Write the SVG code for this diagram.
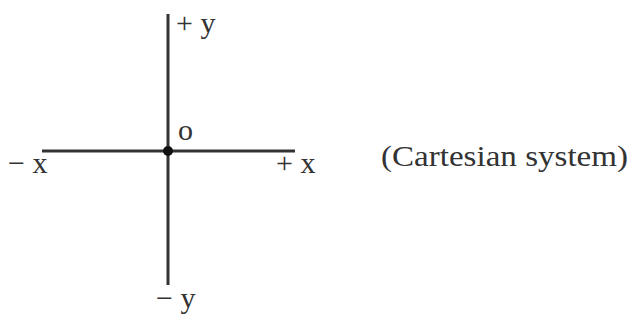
<svg xmlns="http://www.w3.org/2000/svg" width="636" height="323" viewBox="0 0 636 323">
<style>
.ax{stroke:#333;stroke-width:3;fill:none}
.t{font-family:"Liberation Serif",serif;fill:#333;font-size:30px}
</style>
<rect width="636" height="323" fill="#fff"/>
<g id="connectors">
<line class="ax" x1="168" y1="14" x2="168" y2="285"/>
<line class="ax" x1="42" y1="151" x2="295" y2="151"/>
</g>
<g id="origin">
<circle cx="168" cy="151" r="5" fill="#111"/>
<text class="t" x="178" y="140" font-size="24">o</text>
</g>
<g id="py"><text class="t" x="176" y="33">+ y</text></g>
<g id="ny"><text class="t" x="156" y="308">− y</text></g>
<g id="nx"><text class="t" x="8" y="173">− x</text></g>
<g id="px"><text class="t" x="276" y="173">+ x</text></g>
<g id="label"><text class="t" x="381" y="166" font-size="30" textLength="247" lengthAdjust="spacingAndGlyphs">(Cartesian system)</text></g>
</svg>
